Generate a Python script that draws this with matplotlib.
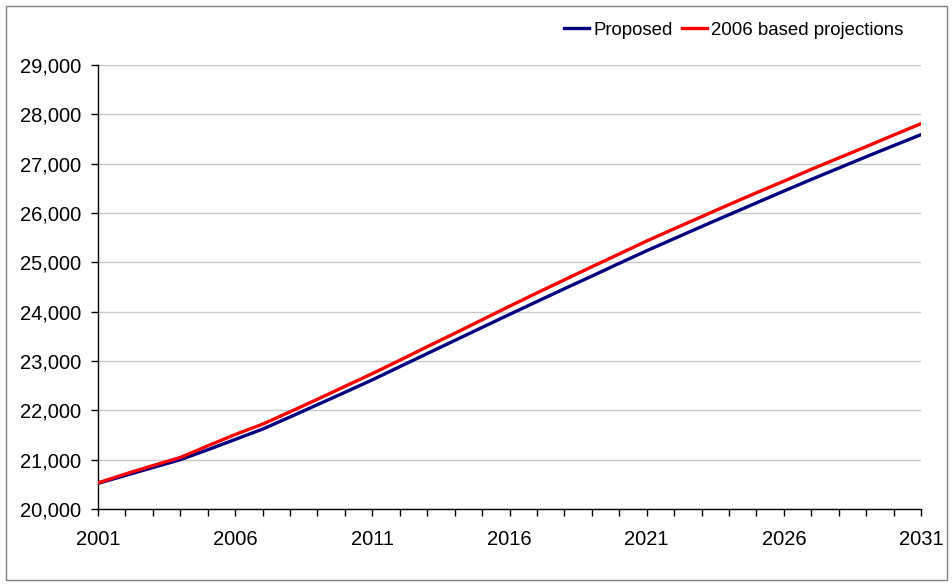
import matplotlib
matplotlib.use("Agg")
import matplotlib.pyplot as plt
from matplotlib.patches import Rectangle
from matplotlib.ticker import FuncFormatter, MultipleLocator

plt.rcParams['font.family'] = ['Liberation Sans', 'DejaVu Sans']

years = list(range(2001, 2032))
proposed = [20520, 20680, 20840, 21000, 21200, 21410, 21620, 21865, 22115, 22365,
            22618, 22885, 23150, 23415, 23680, 23944, 24205, 24465, 24720, 24980,
            25235, 25480, 25725, 25965, 26205, 26444, 26680, 26910, 27140, 27365,
            27588]
projections_2006 = [20530, 20710, 20880, 21045, 21280, 21510, 21720, 21970, 22225, 22485,
                    22745, 23015, 23290, 23560, 23835, 24110, 24380, 24645, 24910, 25170,
                    25432, 25680, 25925, 26170, 26410, 26645, 26885, 27115, 27345, 27580,
                    27811]
series_names = ["Proposed", "2006 based projections"]
x_tick_labels = [2001, 2006, 2011, 2016, 2021, 2026, 2031]

W, H = 953, 586
fig = plt.figure(figsize=(W / 100, H / 100), dpi=100)
fig.patches.append(Rectangle((6 / W, 6 / H), 941 / W, 574 / H, transform=fig.transFigure,
                             fill=False, edgecolor='#808080', linewidth=1.0))
ax = fig.add_axes([98 / W, 1 - 509 / H, (921 - 98) / W, (509 - 65) / H])

ax.plot(years, proposed, color='#000080', linewidth=2.4, label=series_names[0], zorder=3)
ax.plot(years, projections_2006, color='#FF0000', linewidth=2.4, label=series_names[1], zorder=4)

ax.set_xlim(2001, 2031)
ax.set_ylim(20000, 29000)
ax.set_xticks(x_tick_labels)
ax.xaxis.set_minor_locator(MultipleLocator(1))
ax.yaxis.set_major_locator(MultipleLocator(1000))
ax.yaxis.set_major_formatter(FuncFormatter(lambda v, p: f"{int(v):,}"))
ax.grid(axis='y', color='#C8C8C8', linewidth=1.0, zorder=0)
ax.set_axisbelow(True)
for s in ['top', 'right']:
    ax.spines[s].set_visible(False)
for s in ['left', 'bottom']:
    ax.spines[s].set_color('#000000')
    ax.spines[s].set_linewidth(1.0)
ax.tick_params(axis='both', which='both', direction='out', length=5, width=1, colors='#000000',
               labelsize=14.5, labelcolor='#000000')
ax.tick_params(axis='x', which='major', pad=10)
ax.tick_params(axis='y', which='major', pad=7)

leg = fig.legend(loc='center right', bbox_to_anchor=(903 / W, 1 - 30 / H), ncol=2, frameon=False,
                 fontsize=13.4, handlelength=1.35, handletextpad=0.2, columnspacing=0.5,
                 borderaxespad=0, borderpad=0)

fig.savefig('out.png', dpi=100)
